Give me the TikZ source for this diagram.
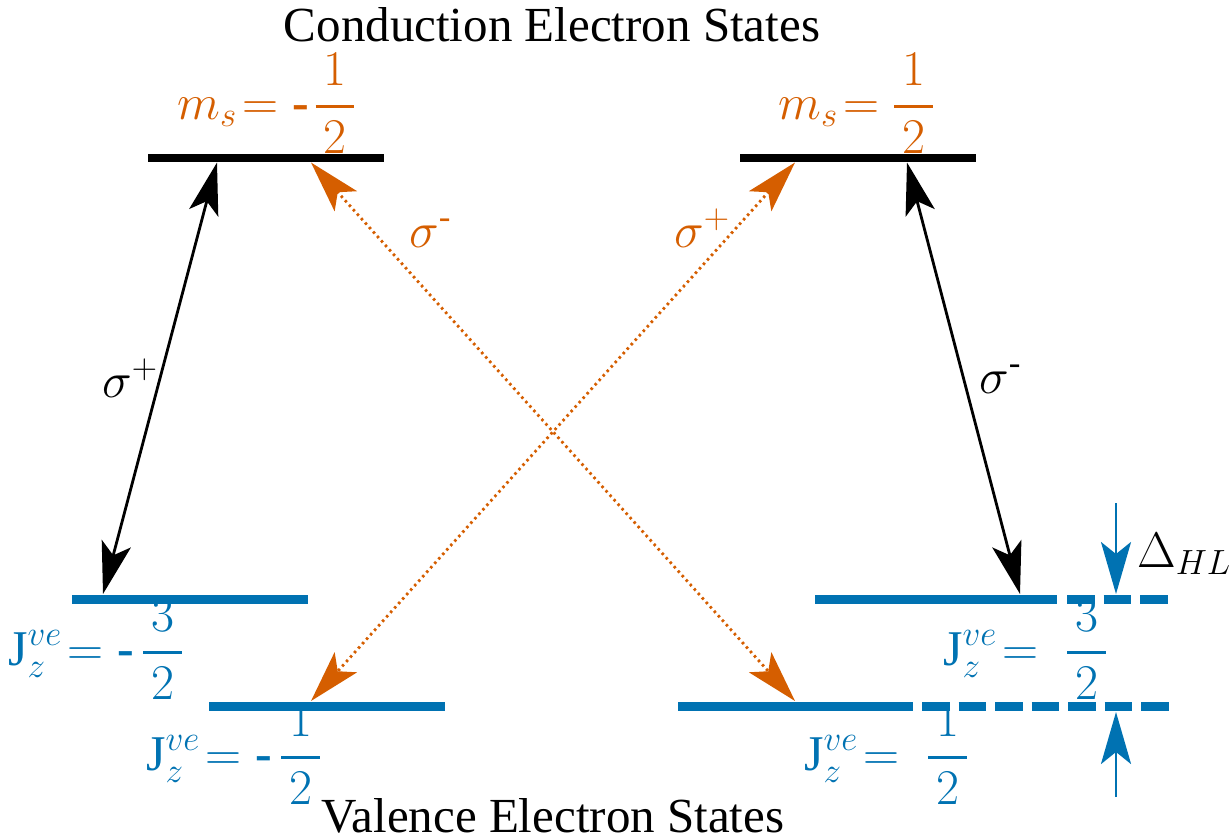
\documentclass[tikz,border=0pt]{standalone}
\usepackage{fix-cm}
\usepackage{amsmath}
\usepackage{fontspec}
\setmainfont{Liberation Serif}
\usetikzlibrary{arrows.meta}
\definecolor{vorange}{RGB}{213,94,0}
\definecolor{vblue}{RGB}{0,114,178}
\newcommand{\hyph}{\text{\bfseries -}}
\newcommand{\fr}[2]{\genfrac{}{}{2.6pt}{0}{\hspace{8pt}#1\hspace{8pt}}{#2}}
\begin{document}
\begin{tikzpicture}[x=1pt,y=-1pt,
  level/.style={line width=8.5pt},
  trans/.style={line width=2.8pt,{Stealth[length=52pt,width=30pt,inset=12pt]}-{Stealth[length=52pt,width=30pt,inset=12pt]}},
  otrans/.style={trans,vorange,dash pattern=on 2.5pt off 3.5pt},
  gap/.style={line width=2.8pt,vblue,-{Stealth[length=52pt,width=30pt,inset=12pt]}},
  lbl/.style={inner sep=0pt,font=\fontsize{50}{60}\selectfont},
  title/.style={inner sep=0pt,font=\fontsize{49}{58}\selectfont}
]
\useasboundingbox (0,0) rectangle (1231,838);
% titles
\node[title,anchor=base] (ct) at (552,41) {Conduction Electron States};
\node[title,anchor=base] (vt) at (553,832) {Valence Electron States};
% conduction levels
\draw[level] (148,158) -- (384,158);
\draw[level] (740,158) -- (976,158);
% valence levels
\draw[level,vblue] (72,599.5) -- (308,599.5);
\draw[level,vblue] (209,706.5) -- (445,706.5);
\draw[level,vblue] (815,599.5) -- (1057,599.5);
\draw[level,vblue,dash pattern=on 27.5pt off 9pt] (1067,599.5) -- (1168,599.5);
\draw[level,vblue] (678,706.5) -- (913,706.5);
\draw[level,vblue,dash pattern=on 27.5pt off 9pt] (922,706.5) -- (1169,706.5);
% endpoints
\coordinate (cL1) at (217,162.5);
\coordinate (cL2) at (311,162.5);
\coordinate (cR1) at (795,162.5);
\coordinate (cR2) at (907,162.5);
\coordinate (vL1) at (103,594);
\coordinate (vL2) at (311,701);
\coordinate (vR1) at (1020,594);
\coordinate (vR2) at (795,701);
\coordinate (gT) at (1116,503);
\coordinate (gTt) at (1116,594);
\coordinate (gB) at (1116,797);
\coordinate (gBt) at (1116,712);
% transitions
\draw[trans] (cL1) -- (vL1);
\draw[trans] (cR2) -- (vR1);
\draw[otrans] (cL2) -- (vR2);
\draw[otrans] (cR1) -- (vL2);
\draw[gap] (gT) -- (gTt);
\draw[gap] (gB) -- (gBt);
% labels
\node[lbl,text=vorange,anchor=base west] (msL) at (177,119) {$m_s\mkern2mu{=}\mkern5mu\hyph\mkern2mu\fr{1}{2}$};
\node[lbl,text=vorange,anchor=base west] (msR) at (778,119) {$m_s\mkern2mu{=}\mkern5mu\fr{1}{2}$};
\node[lbl,text=vblue,anchor=base west] (jL1) at (8,665) {$\text{J}^{ve}_z\!= \hyph\,\fr{3}{2}$};
\node[lbl,text=vblue,anchor=base west] (jL2) at (146,770) {$\text{J}^{ve}_z\!= \hyph\,\fr{1}{2}$};
\node[lbl,text=vblue,anchor=base west] (jR1) at (943,665) {$\text{J}^{ve}_z\!= \;\fr{3}{2}$};
\node[lbl,text=vblue,anchor=base west] (jR2) at (804,770) {$\text{J}^{ve}_z\!= \;\fr{1}{2}$};
\node[lbl,anchor=base west] (s1) at (102,397) {$\sigma^{+}$};
\node[lbl,anchor=base west] (s2) at (979,393) {$\sigma^{\text{-}}$};
\node[lbl,text=vorange,anchor=base west] (s3) at (409,247) {$\sigma^{\text{-}}$};
\node[lbl,text=vorange,anchor=base west] (s4) at (674,247) {$\sigma^{+}$};
\node[lbl,anchor=base west] (dhl) at (1137,567) {$\Delta_{HL}$};
\end{tikzpicture}
\end{document}
